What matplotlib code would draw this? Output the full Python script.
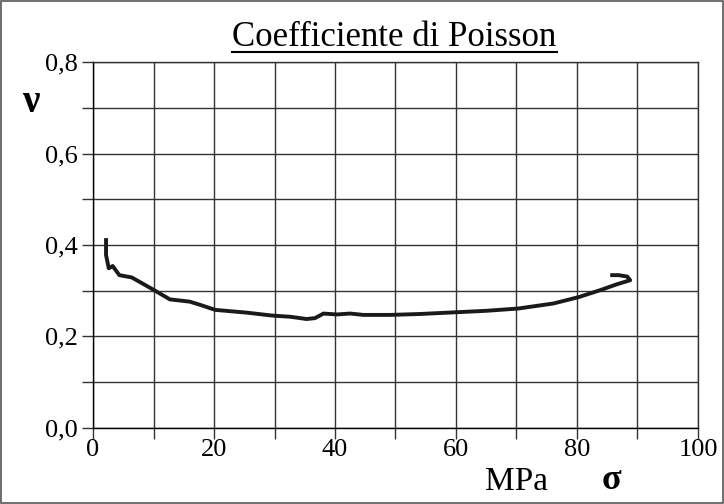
import matplotlib
matplotlib.use("Agg")
import matplotlib.pyplot as plt
from matplotlib.lines import Line2D
from matplotlib.patches import Rectangle
from matplotlib.ticker import MultipleLocator

plt.rcParams["font.family"] = ["Liberation Serif", "DejaVu Serif"]

# stress (MPa) and Poisson ratio
sigma = [2.15, 2.15, 2.6, 3.25, 4.35, 6.4, 10.0, 12.7, 16.0, 17.7, 20.2, 25.4, 29.3,
         30.2, 32.6, 35.3, 36.7, 38.1, 40.3, 42.5, 44.7, 49.1, 54.0, 60.3, 65.0,
         70.3, 76.1, 80.3, 83.8, 86.6, 88.8, 88.3, 86.9, 85.5]
nu = [0.415, 0.378, 0.349, 0.354, 0.334, 0.329, 0.302, 0.281, 0.276, 0.269, 0.258,
      0.252, 0.246, 0.245, 0.243, 0.238, 0.240, 0.250, 0.248, 0.250, 0.247, 0.247,
      0.249, 0.253, 0.256, 0.261, 0.272, 0.286, 0.301, 0.314, 0.323, 0.331, 0.334,
      0.334]

x_ticks = [0, 20, 40, 60, 80, 100]
y_ticks = [0.0, 0.2, 0.4, 0.6, 0.8]
y_labels = ["0,0", "0,2", "0,4", "0,6", "0,8"]

fig = plt.figure(figsize=(7.24, 5.04), dpi=100)
ax = fig.add_axes([0.1285, 0.1512, 0.8355, 0.7254])

ax.plot(sigma, nu, color="#1a1a1a", lw=2.8, solid_capstyle="butt", zorder=3)

ax.set_xlim(0, 100)
ax.set_ylim(0, 0.8)
ax.set_xticks(x_ticks)
ax.set_xticklabels([str(v) for v in x_ticks])
ax.set_yticks(y_ticks)
ax.set_yticklabels(y_labels)
ax.xaxis.set_minor_locator(MultipleLocator(10))
ax.yaxis.set_minor_locator(MultipleLocator(0.1))
ax.grid(which="both", color="#333333", lw=1.0)
ax.tick_params(which="both", direction="out", length=8, width=1.0, color="#333333",
               labelsize=19, pad=3)
ax.tick_params(axis="x", pad=0)
for s in ax.spines.values():
    s.set_color("#333333")
    s.set_linewidth(1.0)
ax.spines["left"].set_color("black")
ax.spines["bottom"].set_color("black")

title = fig.text(0.545, 0.909, "Coefficiente di Poisson", fontsize=25,
                 ha="center", va="baseline")
fig.text(0.714, 0.028, "MPa", fontsize=24, ha="center", va="baseline")
fig.text(0.845, 0.03, "σ", fontsize=26, fontweight="bold", ha="center",
         va="baseline")
fig.text(0.042, 0.778, "ν", fontsize=28, fontweight="bold", ha="center",
         va="baseline")

# underline under the title
fig.canvas.draw()
bb = title.get_window_extent().transformed(fig.transFigure.inverted())
fig.add_artist(Line2D([bb.x0, bb.x1], [0.896, 0.896], transform=fig.transFigure,
                      color="black", lw=1.5))

fig.add_artist(Rectangle((0.001, 0.001), 0.997, 0.997, transform=fig.transFigure,
                         fill=False, edgecolor="#555555", lw=1.2))

fig.savefig("out.png", dpi=100)
